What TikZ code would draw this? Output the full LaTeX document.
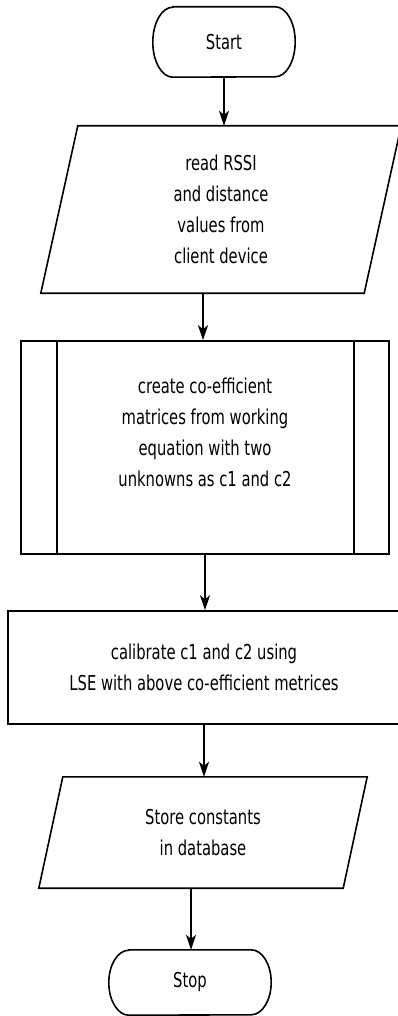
\documentclass[tikz,border=0pt]{standalone}
\usepackage{fontspec}
\setmainfont{DejaVu Sans}[FakeStretch=0.72]
\usetikzlibrary{arrows.meta,calc}
% terminal outline: straight top/bottom, elliptical ends
\newcommand\termpath[2]{%
  \draw[outline] ($(#1.north west)+(20pt,0pt)$) -- ($(#1.north east)+(-20pt,0pt)$)
    arc[start angle=90,end angle=-90,x radius=20pt,y radius=#2]
    -- ($(#1.south west)+(20pt,0pt)$)
    arc[start angle=270,end angle=90,x radius=20pt,y radius=#2] -- cycle;}
% parallelogram outline around a node: #2 = half of the horizontal slant
\newcommand\parapath[2]{%
  \draw[outline] ($(#1.north west)+(#2,0pt)$) -- ($(#1.north east)+(#2,0pt)$)
    -- ($(#1.south east)+(-#2,0pt)$) -- ($(#1.south west)+(-#2,0pt)$) -- cycle;}
\begin{document}
\begin{tikzpicture}[x=1pt,y=-1pt,
  font=\fontsize{20.5pt}{31pt}\selectfont,
  outline/.style={line width=1.6pt},
  term/.style={rectangle, inner sep=0pt, align=center},
  txt/.style={inner sep=0pt, align=center},
  box/.style={rectangle, draw, line width=1.6pt, inner sep=0pt, align=center},
  para/.style={rectangle, inner sep=0pt, align=center},
  arr/.style={-{Stealth[length=15pt,width=10pt,inset=4pt]}, line width=1.6pt}]
\useasboundingbox (0,0) rectangle (398,1016);
\clip (0,0) rectangle (398,1016);
\fill[white] (0,0) rectangle (398,1016);

\node[term, minimum width=142pt, minimum height=70pt] (start) at (224,42) {Start};
\termpath{start}{35pt}

\node[para, minimum width=323pt, minimum height=167pt] (read) at (221,209.5)
  {read RSSI\\and distance\\values from\\client device};
\parapath{read}{18.5pt}
\coordinate (readB) at ($(read.south)+(-18pt,0pt)$);

\node[box, minimum width=368pt, minimum height=213pt] (sub) at (205,447.5) {};
\draw[outline] ($(sub.north west)+(37pt,0pt)$) -- ($(sub.south west)+(37pt,0pt)$);
\draw[outline] ($(sub.north east)+(-36pt,0pt)$) -- ($(sub.south east)+(-36pt,0pt)$);
\node[txt] (subtext) at (205,432)
  {create co-efficient\\matrices from working\\equation with two\\unknowns as c1 and c2};

\node[box, minimum width=392pt, minimum height=113pt] (calib) at (204,667.5)
  {calibrate c1 and c2 using\\LSE with above co-efficient metrices};

\node[para, minimum width=304pt, minimum height=111pt] (store) at (203,832.5)
  {Store constants\\in database};
\parapath{store}{12pt}
\coordinate (storeB) at ($(store.south)+(-12pt,0pt)$);

\node[term, minimum width=162pt, minimum height=65pt] (stop) at (190,982.5) {Stop};
\termpath{stop}{32.5pt}

\draw[arr] (start.south) -- (start.south |- read.north);
\draw[arr] (readB) -- (readB |- sub.north);
\draw[arr] (sub.south) -- (sub.south |- calib.north);
\draw[arr] (calib.south) -- (calib.south |- store.north);
\draw[arr] (storeB) -- (storeB |- stop.north);
\end{tikzpicture}
\end{document}
